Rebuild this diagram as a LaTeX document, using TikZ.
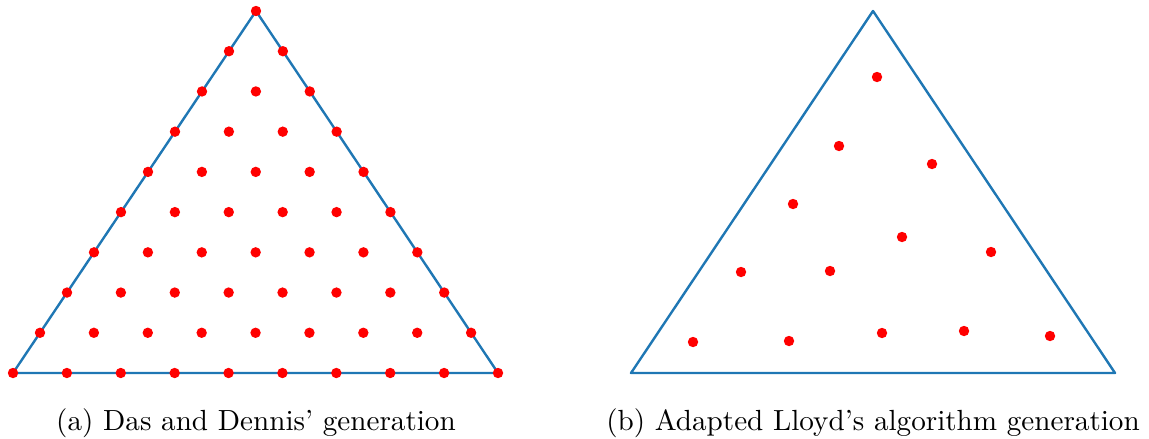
\documentclass[tikz,border=0pt]{standalone}
\usetikzlibrary{calc}
\definecolor{tabblue}{RGB}{31,119,180}
\tikzset{
  tri/.style={draw=tabblue, line width=0.84pt, line join=round},
  dot/.style={fill=red, draw=none},
  captext/.style={font=\fontsize{10.2}{12}\selectfont, anchor=base}
}
\begin{document}
\begin{tikzpicture}[x=0.35pt, y=-0.35pt]
\path[use as bounding box] (0,0) rectangle (1149,438);
% left triangle
\coordinate (A) at (256,11);
\coordinate (BL) at (13,373);
\coordinate (BR) at (498,373);
\draw[tri] (A) -- (BL) -- (BR) -- cycle;
\foreach \i in {0,...,9}{
  \pgfmathtruncatemacro{\jmax}{9-\i}
  \foreach \j in {0,...,\jmax}{
    \fill[dot] ($(BL)!\i/9!(BR) + \j/9*(A) - \j/9*(BL)$) circle[radius=1.82pt];
  }
}
% right triangle
\coordinate (C) at (873,11);
\coordinate (CL) at (631,373);
\coordinate (CR) at (1115,373);
\draw[tri] (C) -- (CL) -- (CR) -- cycle;
\foreach \p in {(877,77),(839,146),(932,164),(793,204),(902,237),(991,252),(741,272),(830,271),(693,342),(789,341),(882,333),(964,331),(1050,336)}{
  \fill[dot] \p circle[radius=1.82pt];
}
\node[captext] (capa) at (256,430) {(a) Das and Dennis' generation};
\node[captext] (capb) at (873,430) {(b) Adapted Lloyd's algorithm generation};
\end{tikzpicture}
\end{document}
